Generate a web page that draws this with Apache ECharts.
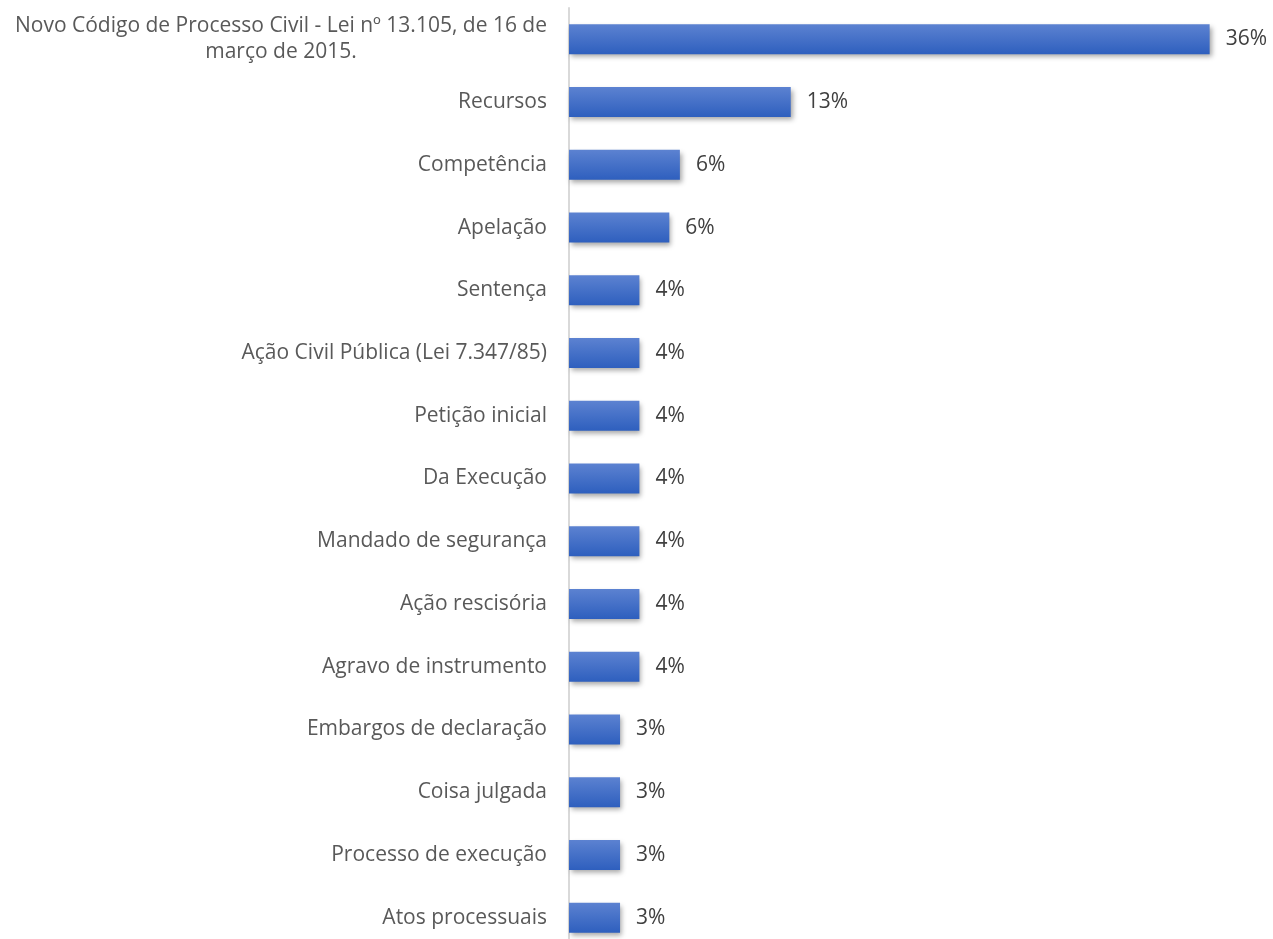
<!DOCTYPE html>
<html><head><meta charset="utf-8">
<script src="https://cdn.jsdelivr.net/npm/echarts@6/dist/echarts.min.js"></script>
<style>html,body{margin:0;padding:0;background:#fff;overflow:hidden}#c{width:1273px;height:960px}</style>
</head><body><div id="c"></div>
<script>
const categories = [
  "Novo Código de Processo Civil - Lei nº 13.105, de 16 de\nmarço de 2015.",
  "Recursos",
  "Competência",
  "Apelação",
  "Sentença",
  "Ação Civil Pública (Lei 7.347/85)",
  "Petição inicial",
  "Da Execução",
  "Mandado de segurança",
  "Ação rescisória",
  "Agravo de instrumento",
  "Embargos de declaração",
  "Coisa julgada",
  "Processo de execução",
  "Atos processuais"
];
const values = [36.4, 12.6, 6.3, 5.7, 4.0, 4.0, 4.0, 4.0, 4.0, 4.0, 4.0, 2.9, 2.9, 2.9, 2.9];

const txt = { color: '#595959', fontFamily: 'Open Sans', fontSize: 21, lineHeight: 26 };
const chart = echarts.init(document.getElementById('c'));
chart.setOption({
  animation: false,
  grid: { left: 569, top: 8, width: 706, height: 941 },
  xAxis: { type: 'value', min: 0, max: 40, show: false },
  yAxis: {
    type: 'category', data: categories, inverse: true,
    axisLine: { show: true, lineStyle: { color: '#d9d9d9', width: 2 } },
    axisTick: { show: false },
    axisLabel: Object.assign({}, txt, {
      margin: 22, align: 'right',
      formatter: v => v.indexOf('\n') < 0 ? v :
        v.split('\n').map(s => '{c|' + s + '}').join('\n'),
      rich: { c: Object.assign({ align: 'center' }, txt) }
    })
  },
  series: [{
    type: 'bar', data: values, barWidth: 30,
    itemStyle: {
      color: new echarts.graphic.LinearGradient(0, 0, 0, 1, [
        { offset: 0, color: '#5c82d1' }, { offset: 1, color: '#2e5fbe' }
      ]),
      shadowColor: 'rgba(0,0,0,0.35)', shadowBlur: 5, shadowOffsetX: 2, shadowOffsetY: 3
    },
    label: {
      show: true, position: 'right', distance: 16, color: '#404040',
      fontFamily: 'Open Sans', fontSize: 21,
      formatter: p => Math.round(p.value) + '%'
    }
  }]
});
</script></body></html>
